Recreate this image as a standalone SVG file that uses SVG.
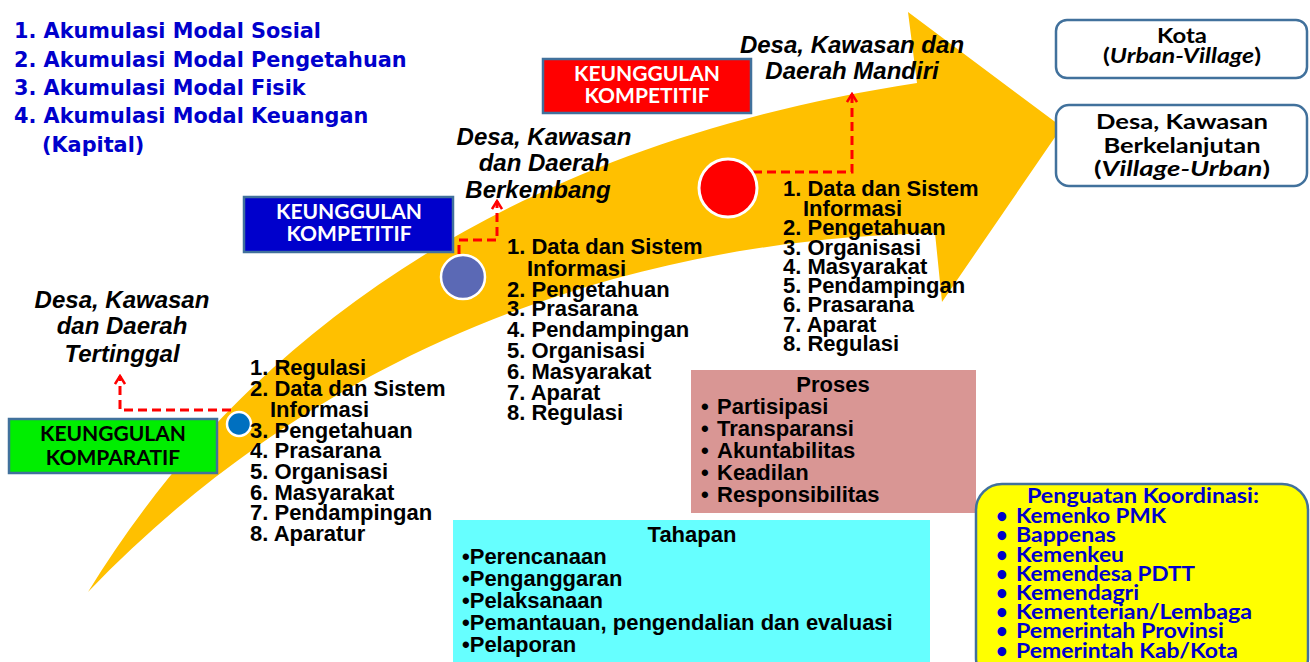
<svg xmlns="http://www.w3.org/2000/svg" width="1310" height="662" viewBox="0 0 1310 662">
<defs>
<style>
.bl{font-family:"DejaVu Sans",sans-serif;font-weight:bold;font-size:20.8px;fill:#0000CC}
.lbl{font-family:"Liberation Sans",Arial,sans-serif;font-weight:bold;font-style:italic;font-size:24px;text-anchor:middle;fill:#000}
.lst{font-family:"Liberation Sans",Arial,sans-serif;font-weight:bold;font-size:22px;fill:#000}
.cal{font-family:Lato,"Liberation Sans",sans-serif;font-weight:bold;font-size:21px;text-anchor:middle;fill:#000}
.kb{font-family:Lato,"Liberation Sans",sans-serif;font-weight:bold;font-size:21px;text-anchor:middle}
.box{stroke:#41719C;stroke-width:2.5}
.dash{fill:none;stroke:#FF0000;stroke-width:3;stroke-dasharray:9 5;marker-end:url(#chev)}
.yl{font-family:Lato,"Liberation Sans",sans-serif;font-weight:bold;font-size:20px;fill:#0000CC}
</style>
<marker id="chev" viewBox="0 0 12 12" refX="10" refY="6" markerWidth="12" markerHeight="12" markerUnits="userSpaceOnUse" orient="auto">
<path d="M2,1 L10,6 L2,11" fill="none" stroke="#FF0000" stroke-width="2.5"/>
</marker>
</defs>
<rect width="1310" height="662" fill="#fff"/>

<g id="big-arrow">
<path d="M88,592 C230,360 480,150 917,83 L908,12 L1062,127 L942,302 L935,233 C620,240 320,350 88,592 Z" fill="#FFC000"/>
</g>

<g id="modal-list">
<text class="bl" x="14" y="38">1. Akumulasi Modal Sosial</text>
<text class="bl" x="14" y="67">2. Akumulasi Modal Pengetahuan</text>
<text class="bl" x="14" y="95">3. Akumulasi Modal Fisik</text>
<text class="bl" x="14" y="123">4. Akumulasi Modal Keuangan</text>
<text class="bl" x="42" y="152">(Kapital)</text>
</g>

<g id="connectors">
<path class="dash" d="M231,410 H120 V376"/>
<path class="dash" d="M459,282 V240 H497 V201"/>
<path class="dash" d="M753,172 H852 V94"/>
</g>

<g id="dot-komparatif"><circle cx="239" cy="424" r="12" fill="#0070C0" stroke="#fff" stroke-width="2.5"/></g>
<g id="dot-berkembang"><circle cx="463" cy="277" r="22" fill="#5B69B5" stroke="#fff" stroke-width="2.5"/></g>
<g id="dot-mandiri"><circle cx="728" cy="188" r="29" fill="#FF0000" stroke="#fff" stroke-width="3"/></g>

<g id="box-komparatif">
<rect class="box" x="9" y="419" width="208" height="54" fill="#00EE00"/>
<text class="kb" x="113" y="441" fill="#000">KEUNGGULAN</text>
<text class="kb" x="113" y="465" fill="#000">KOMPARATIF</text>
</g>
<g id="box-kompetitif-1">
<rect class="box" x="244" y="197" width="209" height="55" fill="#0000CC"/>
<text class="kb" x="349" y="219" fill="#fff">KEUNGGULAN</text>
<text class="kb" x="349" y="241" fill="#fff">KOMPETITIF</text>
</g>
<g id="box-kompetitif-2">
<rect class="box" x="543" y="59" width="208" height="54" fill="#FF0000"/>
<text class="kb" x="647" y="81" fill="#fff">KEUNGGULAN</text>
<text class="kb" x="647" y="103" fill="#fff">KOMPETITIF</text>
</g>

<g id="label-tertinggal">
<text class="lbl" x="122" y="308">Desa, Kawasan</text>
<text class="lbl" x="122" y="334">dan Daerah</text>
<text class="lbl" x="122" y="362">Tertinggal</text>
</g>
<g id="label-berkembang">
<text class="lbl" x="544" y="145">Desa, Kawasan</text>
<text class="lbl" x="544" y="171">dan Daerah</text>
<text class="lbl" x="538" y="198">Berkembang</text>
</g>
<g id="label-mandiri">
<text class="lbl" x="852" y="53">Desa, Kawasan dan</text>
<text class="lbl" x="852" y="79">Daerah Mandiri</text>
</g>

<g id="list-1">
<text class="lst" x="250" y="375">1. Regulasi</text>
<text class="lst" x="250" y="396">2. Data dan Sistem</text>
<text class="lst" x="270" y="417">Informasi</text>
<text class="lst" x="250" y="438">3. Pengetahuan</text>
<text class="lst" x="250" y="458">4. Prasarana</text>
<text class="lst" x="250" y="479">5. Organisasi</text>
<text class="lst" x="250" y="500">6. Masyarakat</text>
<text class="lst" x="250" y="520">7. Pendampingan</text>
<text class="lst" x="250" y="541">8. Aparatur</text>
</g>
<g id="list-2">
<text class="lst" x="507" y="254">1. Data dan Sistem</text>
<text class="lst" x="527" y="276">Informasi</text>
<text class="lst" x="507" y="297">2. Pengetahuan</text>
<text class="lst" x="507" y="316">3. Prasarana</text>
<text class="lst" x="507" y="337">4. Pendampingan</text>
<text class="lst" x="507" y="358">5. Organisasi</text>
<text class="lst" x="507" y="379">6. Masyarakat</text>
<text class="lst" x="507" y="400">7. Aparat</text>
<text class="lst" x="507" y="420">8. Regulasi</text>
</g>
<g id="list-3">
<text class="lst" x="783" y="196">1. Data dan Sistem</text>
<text class="lst" x="803" y="216">Informasi</text>
<text class="lst" x="783" y="235">2. Pengetahuan</text>
<text class="lst" x="783" y="255">3. Organisasi</text>
<text class="lst" x="783" y="274">4. Masyarakat</text>
<text class="lst" x="783" y="293">5. Pendampingan</text>
<text class="lst" x="783" y="312">6. Prasarana</text>
<text class="lst" x="783" y="332">7. Aparat</text>
<text class="lst" x="783" y="351">8. Regulasi</text>
</g>

<g id="box-kota">
<rect class="box" x="1056" y="20" width="251" height="58" rx="11" fill="#fff"/>
<text class="cal" x="1182" y="43" textLength="50" lengthAdjust="spacingAndGlyphs">Kota</text>
<text class="cal" x="1182" y="63" textLength="158" lengthAdjust="spacingAndGlyphs">(<tspan font-style="italic">Urban-Village</tspan>)</text>
</g>
<g id="box-desa-berkelanjutan">
<rect class="box" x="1056" y="105" width="251" height="81" rx="13" fill="#fff"/>
<text class="cal" x="1182" y="129" textLength="172" lengthAdjust="spacingAndGlyphs">Desa, Kawasan</text>
<text class="cal" x="1182" y="153" textLength="157" lengthAdjust="spacingAndGlyphs">Berkelanjutan</text>
<text class="cal" x="1182" y="176" textLength="176" lengthAdjust="spacingAndGlyphs">(<tspan font-style="italic">Village-Urban</tspan>)</text>
</g>

<g id="box-proses">
<rect x="691" y="370" width="285" height="143" fill="#D99694"/>
<text class="lst" x="833" y="392" text-anchor="middle">Proses</text>
<text class="lst" x="701" y="414">•</text><text class="lst" x="717" y="414">Partisipasi</text>
<text class="lst" x="701" y="436">•</text><text class="lst" x="717" y="436">Transparansi</text>
<text class="lst" x="701" y="458">•</text><text class="lst" x="717" y="458">Akuntabilitas</text>
<text class="lst" x="701" y="480">•</text><text class="lst" x="717" y="480">Keadilan</text>
<text class="lst" x="701" y="502">•</text><text class="lst" x="717" y="502">Responsibilitas</text>
</g>

<g id="box-tahapan">
<rect x="453" y="520" width="477" height="142" fill="#66FFFF"/>
<text class="lst" x="692" y="542" text-anchor="middle">Tahapan</text>
<text class="lst" x="462" y="564">•Perencanaan</text>
<text class="lst" x="462" y="586">•Penganggaran</text>
<text class="lst" x="462" y="608">•Pelaksanaan</text>
<text class="lst" x="462" y="630">•Pemantauan, pengendalian dan evaluasi</text>
<text class="lst" x="462" y="652">•Pelaporan</text>
</g>

<g id="box-koordinasi">
<rect class="box" x="976" y="484" width="332" height="200" rx="26" fill="#FFFF00"/>
<text class="yl" x="1027" y="503" textLength="232" lengthAdjust="spacingAndGlyphs">Penguatan Koordinasi:</text>
<text class="yl" x="996" y="523" font-size="15">•</text><text class="yl" x="1016" y="523" textLength="150" lengthAdjust="spacingAndGlyphs">Kemenko PMK</text>
<text class="yl" x="996" y="542" font-size="15">•</text><text class="yl" x="1016" y="542" textLength="100" lengthAdjust="spacingAndGlyphs">Bappenas</text>
<text class="yl" x="996" y="562" font-size="15">•</text><text class="yl" x="1016" y="562" textLength="108" lengthAdjust="spacingAndGlyphs">Kemenkeu</text>
<text class="yl" x="996" y="581" font-size="15">•</text><text class="yl" x="1016" y="581" textLength="179" lengthAdjust="spacingAndGlyphs">Kemendesa PDTT</text>
<text class="yl" x="996" y="600" font-size="15">•</text><text class="yl" x="1016" y="600" textLength="123" lengthAdjust="spacingAndGlyphs">Kemendagri</text>
<text class="yl" x="996" y="619" font-size="15">•</text><text class="yl" x="1016" y="619" textLength="236" lengthAdjust="spacingAndGlyphs">Kementerian/Lembaga</text>
<text class="yl" x="996" y="638" font-size="15">•</text><text class="yl" x="1016" y="638" textLength="208" lengthAdjust="spacingAndGlyphs">Pemerintah Provinsi</text>
<text class="yl" x="996" y="658" font-size="15">•</text><text class="yl" x="1016" y="658" textLength="222" lengthAdjust="spacingAndGlyphs">Pemerintah Kab/Kota</text>
</g>
</svg>
